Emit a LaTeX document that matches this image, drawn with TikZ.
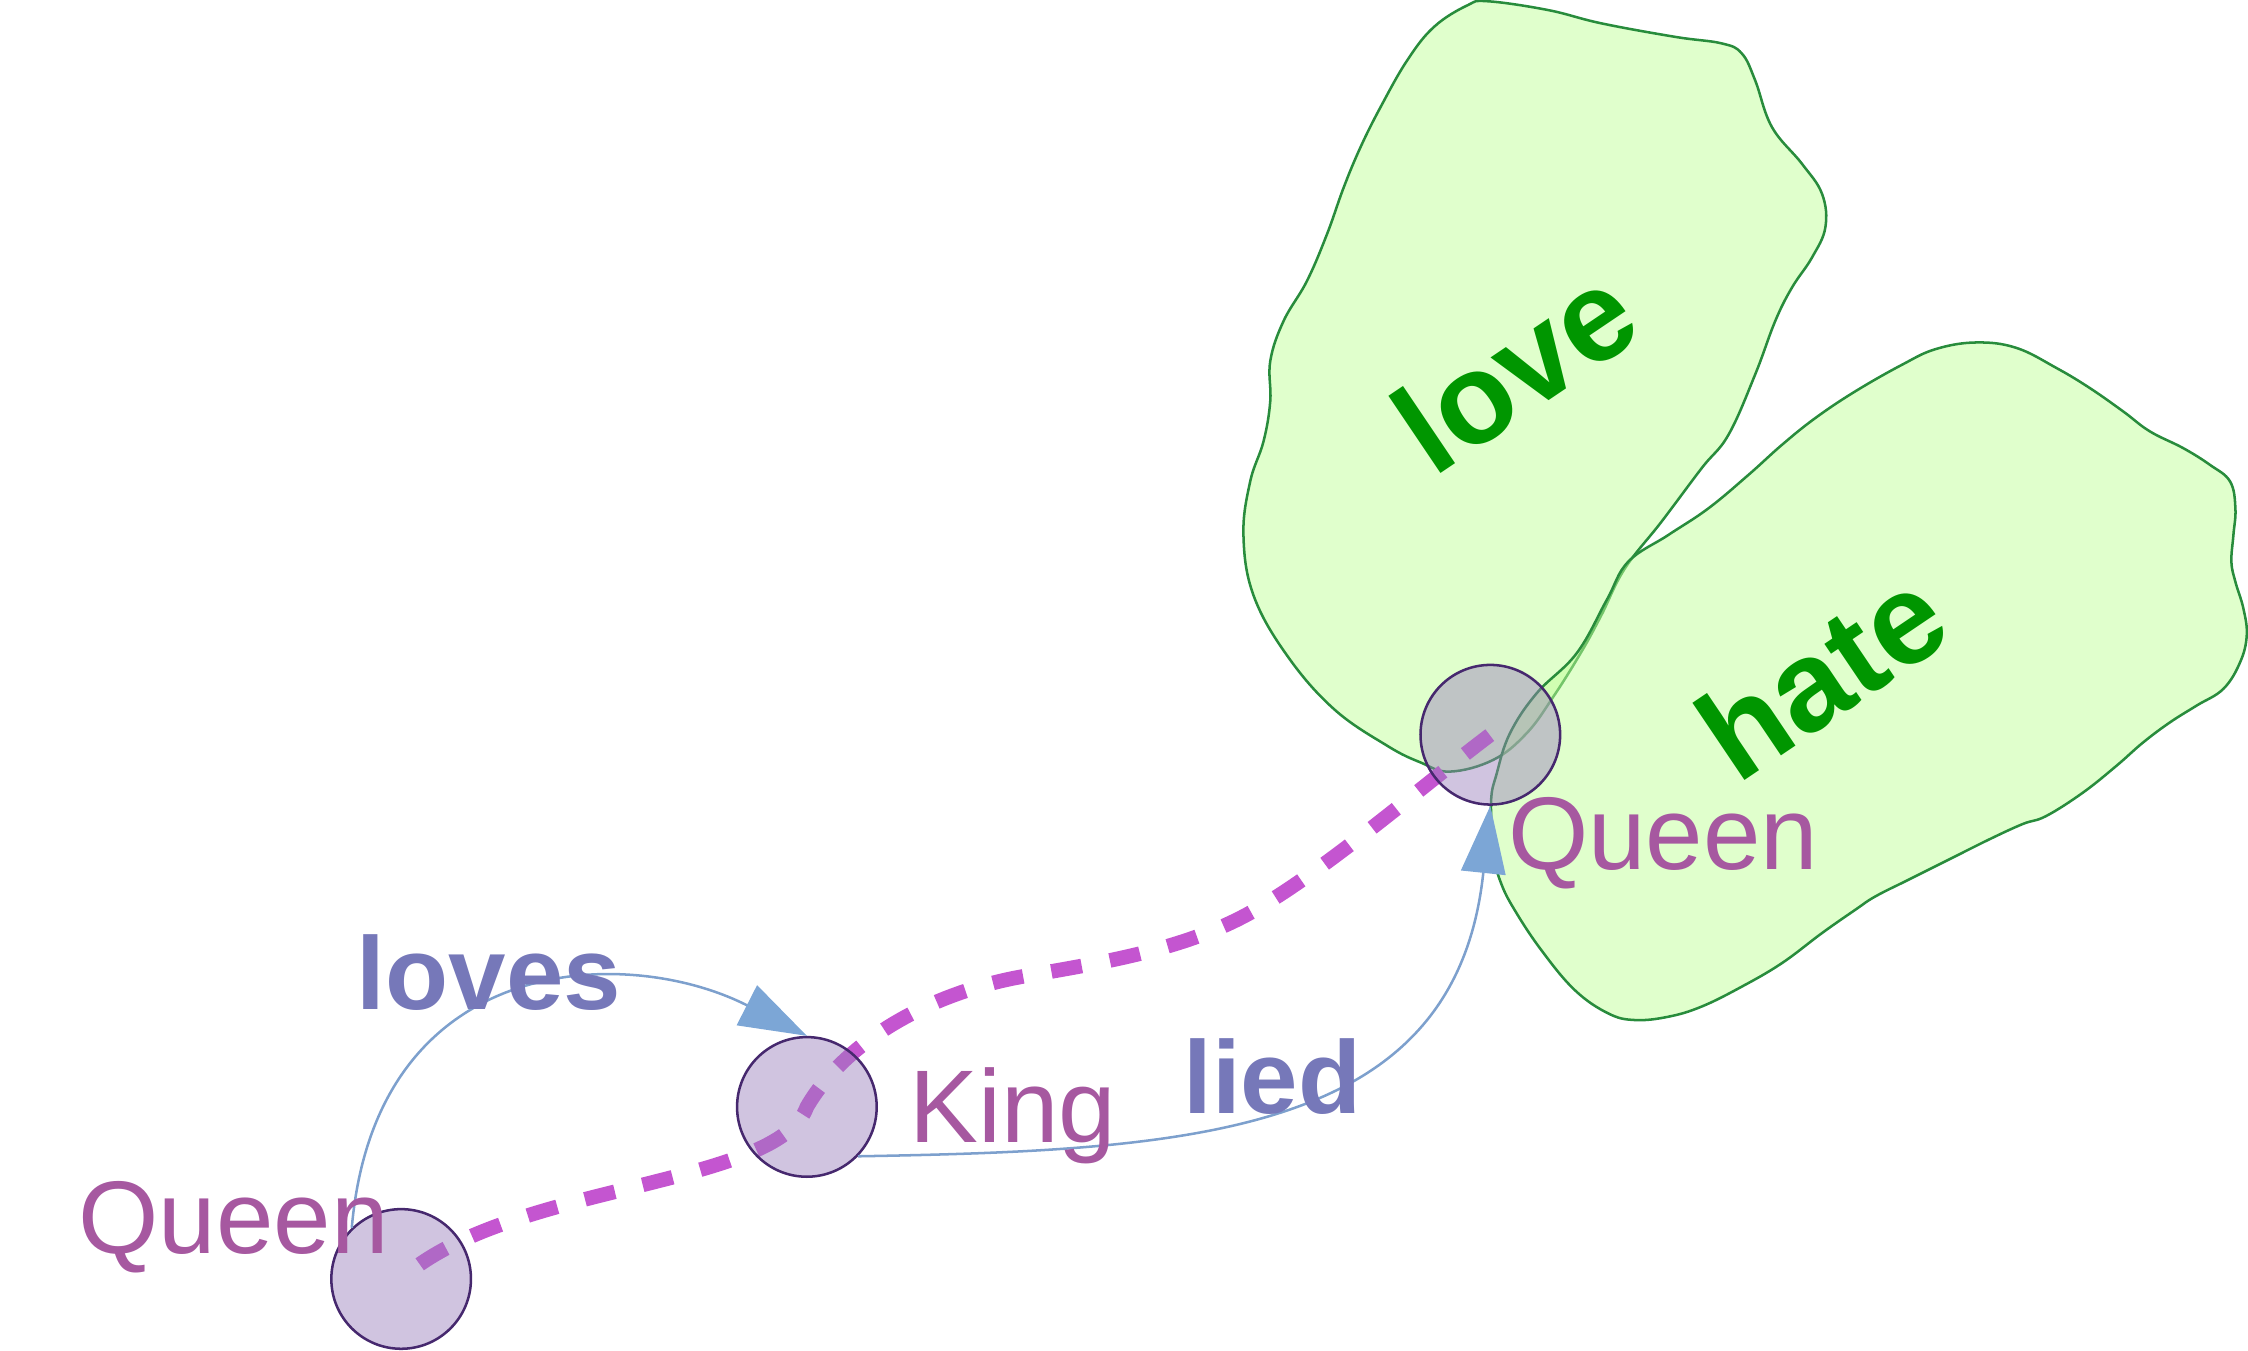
\documentclass[tikz,border=0pt]{standalone}
\usepackage{fontspec}
\setmainfont{Liberation Sans}
\usepackage{tikz}
\usetikzlibrary{arrows.meta, backgrounds}
\definecolor{nodefill}{RGB}{153,127,188}
\definecolor{nodeline}{RGB}{70,40,110}
\definecolor{namepurple}{RGB}{166,88,160}
\definecolor{verbblue}{RGB}{118,120,185}
\definecolor{edgeblue}{RGB}{125,160,205}
\definecolor{arrowblue}{RGB}{124,166,214}
\definecolor{threadmagenta}{RGB}{196,85,208}
\definecolor{blobfill}{RGB}{193,255,153}
\definecolor{blobline}{RGB}{40,140,60}
\definecolor{wordgreen}{RGB}{0,150,0}

\begin{document}
\begin{tikzpicture}[
    entity/.style={circle, draw=nodeline, line width=0.5pt, fill=nodefill, fill opacity=0.46, minimum size=0.974cm, inner sep=0pt},
    who/.style={text=namepurple, font=\fontsize{20.5}{24}\selectfont, anchor=base},
    verb/.style={text=verbblue, font=\fontsize{20.5}{24}\selectfont\bfseries, anchor=base},
    relation/.style={draw=edgeblue, line width=0.5pt, -{Triangle[length=0.47cm, width=0.31cm, color=arrowblue]}},
    blob/.style={draw=blobline, line width=0.5pt, fill=blobfill, fill opacity=0.5},
    feeling/.style={text=wordgreen, font=\fontsize{25.5}{30}\selectfont\bfseries, rotate=34},
    thread/.style={draw=threadmagenta, line width=2.9pt, dash pattern=on 0.215cm off 0.2cm, dash phase=0.25cm}
]
    \useasboundingbox (0,0) rectangle (15.68,9.42);

    % People
    \node[entity] (queen1) at (2.798,0.499) {};
    \node[entity] (king) at (5.628,1.699) {};
    \node[entity] (queen2) at (10.395,4.295) {};

    \begin{pgfonlayer}{background}
    % Feeling regions
    \draw[blob] plot[smooth cycle, tension=0.65] coordinates {
        (10.376,9.411) (10.796,9.35) (11.169,9.257) (11.682,9.163) (12.009,9.117) (12.149,9.047)
        (12.242,8.86) (12.359,8.534) (12.569,8.277) (12.709,8.067) (12.732,7.834) (12.639,7.624)
        (12.499,7.414) (12.382,7.18) (12.242,6.807) (12.056,6.387) (11.869,6.154) (11.589,5.781)
        (11.333,5.454) (11.169,5.128) (11.029,4.871) (10.835,4.561) (10.648,4.305) (10.416,4.12)
        (10.114,4.038) (9.91,4.101) (9.676,4.218) (9.303,4.475) (8.977,4.848) (8.743,5.268)
        (8.673,5.688) (8.72,6.061) (8.813,6.341) (8.86,6.621) (8.86,6.901) (8.953,7.181)
        (9.116,7.46) (9.256,7.787) (9.373,8.114) (9.49,8.394) (9.63,8.674) (9.816,9.0)
        (10.003,9.233) (10.236,9.383)};
    \draw[blob] plot[smooth cycle, tension=0.65] coordinates {
        (11.207,5.235) (11.356,5.501) (11.636,5.688) (11.916,5.874) (12.196,6.108) (12.429,6.317)
        (12.662,6.504) (12.942,6.691) (13.269,6.877) (13.502,6.985) (13.782,7.031) (14.062,6.994)
        (14.342,6.854) (14.575,6.714) (14.808,6.551) (14.995,6.411) (15.228,6.294) (15.415,6.177)
        (15.555,6.061) (15.592,5.874) (15.578,5.688) (15.564,5.501) (15.592,5.361) (15.648,5.174)
        (15.671,4.988) (15.625,4.801) (15.508,4.615) (15.321,4.498) (15.135,4.381) (14.948,4.241)
        (14.762,4.078) (14.528,3.891) (14.272,3.728) (14.108,3.672) (13.875,3.565) (13.595,3.425)
        (13.315,3.285) (13.082,3.168) (12.942,3.075) (12.709,2.912) (12.429,2.702) (12.149,2.538)
        (11.869,2.399) (11.636,2.328) (11.403,2.305) (11.216,2.352) (10.983,2.515) (10.749,2.795)
        (10.563,3.075) (10.469,3.262) (10.423,3.448) (10.4,3.821) (10.44,4.026) (10.532,4.305)
        (10.718,4.584) (10.997,4.863)};

    % Story thread
    \draw[thread] (queen1.center) .. controls +(42:1) and +(250:0.6) .. (king.center)
        .. controls +(60:0.5) and +(190:0.7) .. (7.14,2.61)
        .. controls +(10:0.55) and +(210:0.55) .. (8.75,3.07)
        .. controls +(30:0.6) and +(217:0.6) .. (queen2.center);
    \end{pgfonlayer}

    \node[feeling] (lovetext) at (10.566,6.848) {love};
    \node[feeling] (hatetext) at (12.703,4.722) {hate};

    % Relations
    \draw[relation] (queen1.134) .. controls +(85:1.95) and +(153:1.4) .. (king.north);
    \draw[relation] (king.-44) .. controls +(1:2.38) and +(-96:2.3) .. (queen2.south);

    % Labels
    \node[who] (queen1label) at (1.63,0.68) {Queen};
    \node[who] (kinglabel) at (7.066,1.45) {King};
    \node[who] (queen2label) at (11.60,3.355) {Queen};
    \node[verb] (lovestext) at (3.41,2.38) {loves};
    \node[verb] (liedtext) at (8.875,1.655) {lied};
\end{tikzpicture}
\end{document}
